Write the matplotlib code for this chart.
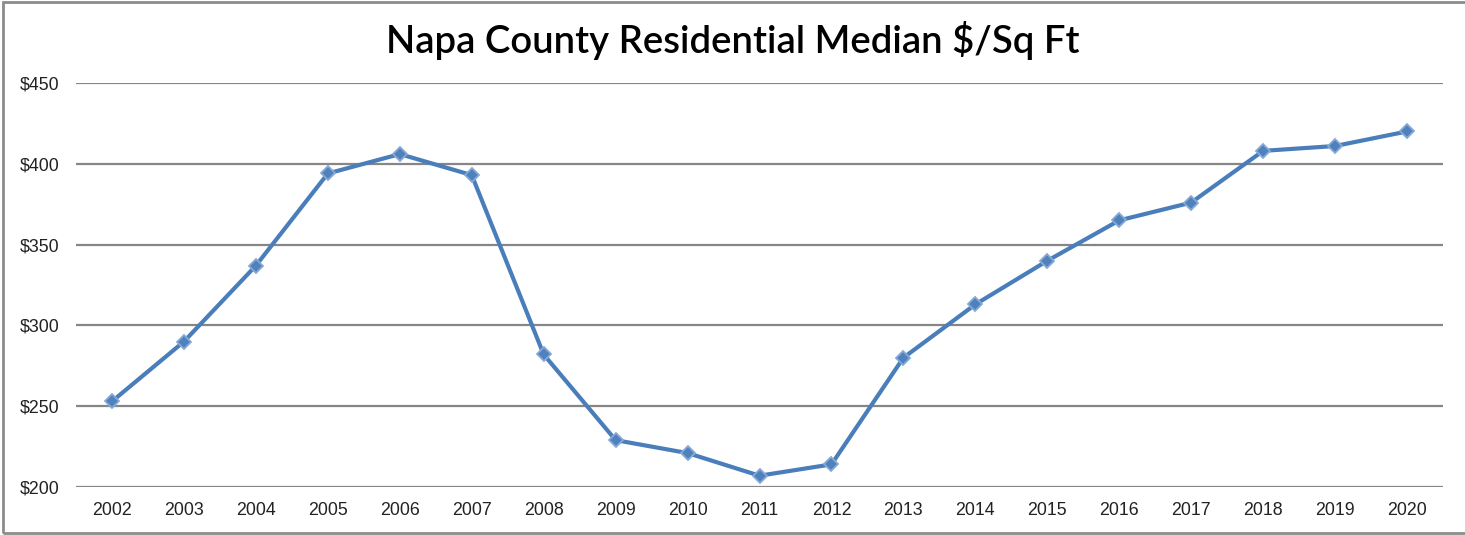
import matplotlib
matplotlib.use("Agg")
import matplotlib.pyplot as plt
from matplotlib.patches import Rectangle

# data
years = ["2002", "2003", "2004", "2005", "2006", "2007", "2008", "2009", "2010", "2011",
         "2012", "2013", "2014", "2015", "2016", "2017", "2018", "2019", "2020"]
price_per_sqft = [253, 290, 337, 394, 406, 393, 282, 229, 221, 207,
                  214, 280, 313, 340, 365, 376, 408, 411, 420]
y_ticks = [200, 250, 300, 350, 400, 450]

fig = plt.figure(figsize=(14.65, 5.35), dpi=100)
ax = fig.add_axes([0.0519, 0.0897, 0.9331, 0.7552])

x = list(range(len(years)))
ax.plot(x, price_per_sqft, color="#4a7ebb", linewidth=3, marker="D", markersize=7.5,
        markerfacecolor="#4f81bd", markeredgecolor="#86a9d6", markeredgewidth=1.3, zorder=3)

ax.set_xlim(-0.5, len(years) - 0.5)
ax.set_ylim(200, 450)
ax.set_yticks(y_ticks)
ax.set_yticklabels(["$%d" % v for v in y_ticks], fontfamily="Liberation Sans", fontsize=12.8,
                   color="#222222")
ax.set_xticks(x)
ax.set_xticklabels(years, fontfamily="Liberation Sans", fontsize=12.8, color="#222222")
ax.tick_params(length=0, pad=11)
ax.tick_params(axis="y", pad=12)
ax.yaxis.grid(True, color="#868686", linewidth=1.6)
ax.set_axisbelow(True)
for s in ax.spines.values():
    s.set_visible(False)

fig.text(0.5, 0.925, "Napa County Residential Median $/Sq Ft", ha="center", va="center",
         fontfamily="Lato", fontsize=27.5, fontweight="semibold")

# outer chart frame
fig.patches.append(Rectangle((0.002, 0.003), 1.2, 0.994, transform=fig.transFigure,
                             fill=False, edgecolor="#8c8c8c", linewidth=2))

fig.savefig("out.png", dpi=100)
